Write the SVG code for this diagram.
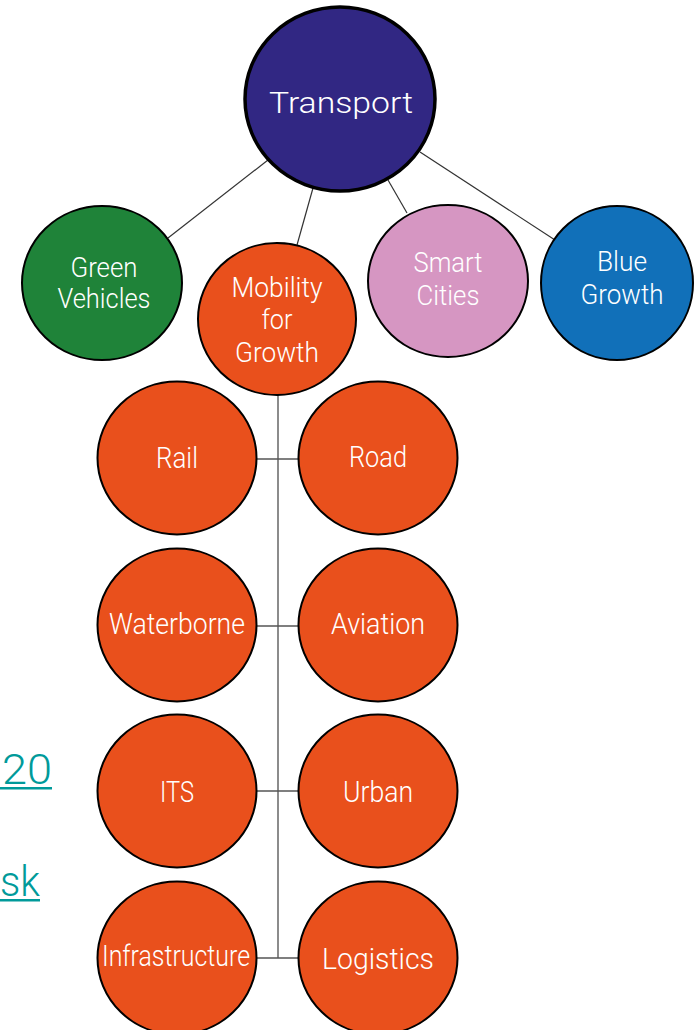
<svg xmlns="http://www.w3.org/2000/svg" width="694" height="1030" viewBox="0 0 694 1030">
<style>
.n{stroke:#000;stroke-width:2}
.o{fill:#e9501c}
.t{font-family:Roboto,"Liberation Sans",sans-serif;font-weight:300;fill:#fff;text-anchor:middle;font-size:30px}
.m{font-size:28px}
.c line{stroke:#333;stroke-width:1.2}
.lk{font-family:Roboto,"Liberation Sans",sans-serif;font-weight:300;fill:#009a9a;font-size:42px;text-anchor:end}
</style>
<rect width="694" height="1030" fill="#fff"/>
<g id="links">
<text class="lk" x="52" y="784" textLength="50" lengthAdjust="spacingAndGlyphs">20</text>
<rect x="0" y="787" width="52" height="2.5" fill="#009a9a"/>
<text class="lk" x="40" y="896" textLength="40" lengthAdjust="spacingAndGlyphs">sk</text>
<rect x="0" y="899" width="40" height="2.5" fill="#009a9a"/>
</g>
<g class="c" id="connectors">
<line x1="268" y1="160" x2="168" y2="238"/>
<line x1="313" y1="188" x2="297" y2="245"/>
<line x1="388" y1="180" x2="407" y2="213"/>
<line x1="420" y1="152" x2="555" y2="240"/>
<line x1="278" y1="395" x2="278" y2="958" style="stroke:#666;stroke-width:1.5"/>
<line x1="256" y1="459" x2="298" y2="459" style="stroke:#555;stroke-width:1.5"/>
<line x1="256" y1="626" x2="298" y2="626" style="stroke:#555;stroke-width:1.5"/>
<line x1="256" y1="791" x2="298" y2="791" style="stroke:#555;stroke-width:1.5"/>
<line x1="256" y1="958" x2="298" y2="958" style="stroke:#555;stroke-width:1.5"/>
</g>
<g id="transport">
<ellipse cx="340" cy="99" rx="95" ry="92" fill="#312783" stroke="#000" stroke-width="3.5"/>
<text class="t" x="341" y="113" font-size="41" textLength="144" lengthAdjust="spacingAndGlyphs">Transport</text>
</g>
<g id="green">
<ellipse class="n" cx="102" cy="283" rx="80" ry="77" fill="#1f8339"/>
<text class="t m" x="104" y="277" textLength="67" lengthAdjust="spacingAndGlyphs">Green</text>
<text class="t m" x="104" y="308" textLength="93" lengthAdjust="spacingAndGlyphs">Vehicles</text>
</g>
<g id="mobility">
<ellipse class="n o" cx="277" cy="319" rx="79" ry="76"/>
<text class="t m" x="277" y="297" textLength="91" lengthAdjust="spacingAndGlyphs">Mobility</text>
<text class="t m" x="277" y="329" textLength="31" lengthAdjust="spacingAndGlyphs">for</text>
<text class="t m" x="277" y="362" textLength="84" lengthAdjust="spacingAndGlyphs">Growth</text>
</g>
<g id="smart">
<ellipse class="n" cx="448" cy="281" rx="80" ry="76" fill="#d696c2"/>
<text class="t m" x="448" y="272" textLength="69" lengthAdjust="spacingAndGlyphs">Smart</text>
<text class="t m" x="448" y="305" textLength="63" lengthAdjust="spacingAndGlyphs">Cities</text>
</g>
<g id="blue">
<ellipse class="n" cx="617" cy="283" rx="76" ry="77" fill="#1170b9"/>
<text class="t m" x="622" y="271" textLength="50" lengthAdjust="spacingAndGlyphs">Blue</text>
<text class="t m" x="622" y="304" textLength="83" lengthAdjust="spacingAndGlyphs">Growth</text>
</g>
<g id="rail">
<ellipse class="n o" cx="177" cy="458" rx="79.5" ry="76.5"/>
<text class="t" x="177" y="468" textLength="42" lengthAdjust="spacingAndGlyphs">Rail</text>
</g>
<g id="road">
<ellipse class="n o" cx="378" cy="458" rx="79.5" ry="76.5"/>
<text class="t" x="378" y="467" textLength="58" lengthAdjust="spacingAndGlyphs">Road</text>
</g>
<g id="waterborne">
<ellipse class="n o" cx="177" cy="625" rx="79.5" ry="76.5"/>
<text class="t" x="177" y="634" textLength="136" lengthAdjust="spacingAndGlyphs">Waterborne</text>
</g>
<g id="aviation">
<ellipse class="n o" cx="378" cy="625" rx="79.5" ry="76.5"/>
<text class="t" x="378" y="634" textLength="94" lengthAdjust="spacingAndGlyphs">Aviation</text>
</g>
<g id="its">
<ellipse class="n o" cx="177" cy="791" rx="79.5" ry="76.5"/>
<text class="t" x="177" y="802" textLength="34" lengthAdjust="spacingAndGlyphs">ITS</text>
</g>
<g id="urban">
<ellipse class="n o" cx="378" cy="791" rx="79.5" ry="76.5"/>
<text class="t" x="378" y="802" textLength="70" lengthAdjust="spacingAndGlyphs">Urban</text>
</g>
<g id="infrastructure">
<ellipse class="n o" cx="177" cy="958" rx="79.5" ry="76.5"/>
<text class="t" x="176" y="966" font-size="28" textLength="148" lengthAdjust="spacingAndGlyphs">Infrastructure</text>
</g>
<g id="logistics">
<ellipse class="n o" cx="378" cy="958" rx="79.5" ry="76.5"/>
<text class="t" x="378" y="969" font-size="33" textLength="112" lengthAdjust="spacingAndGlyphs">Logistics</text>
</g>
</svg>
